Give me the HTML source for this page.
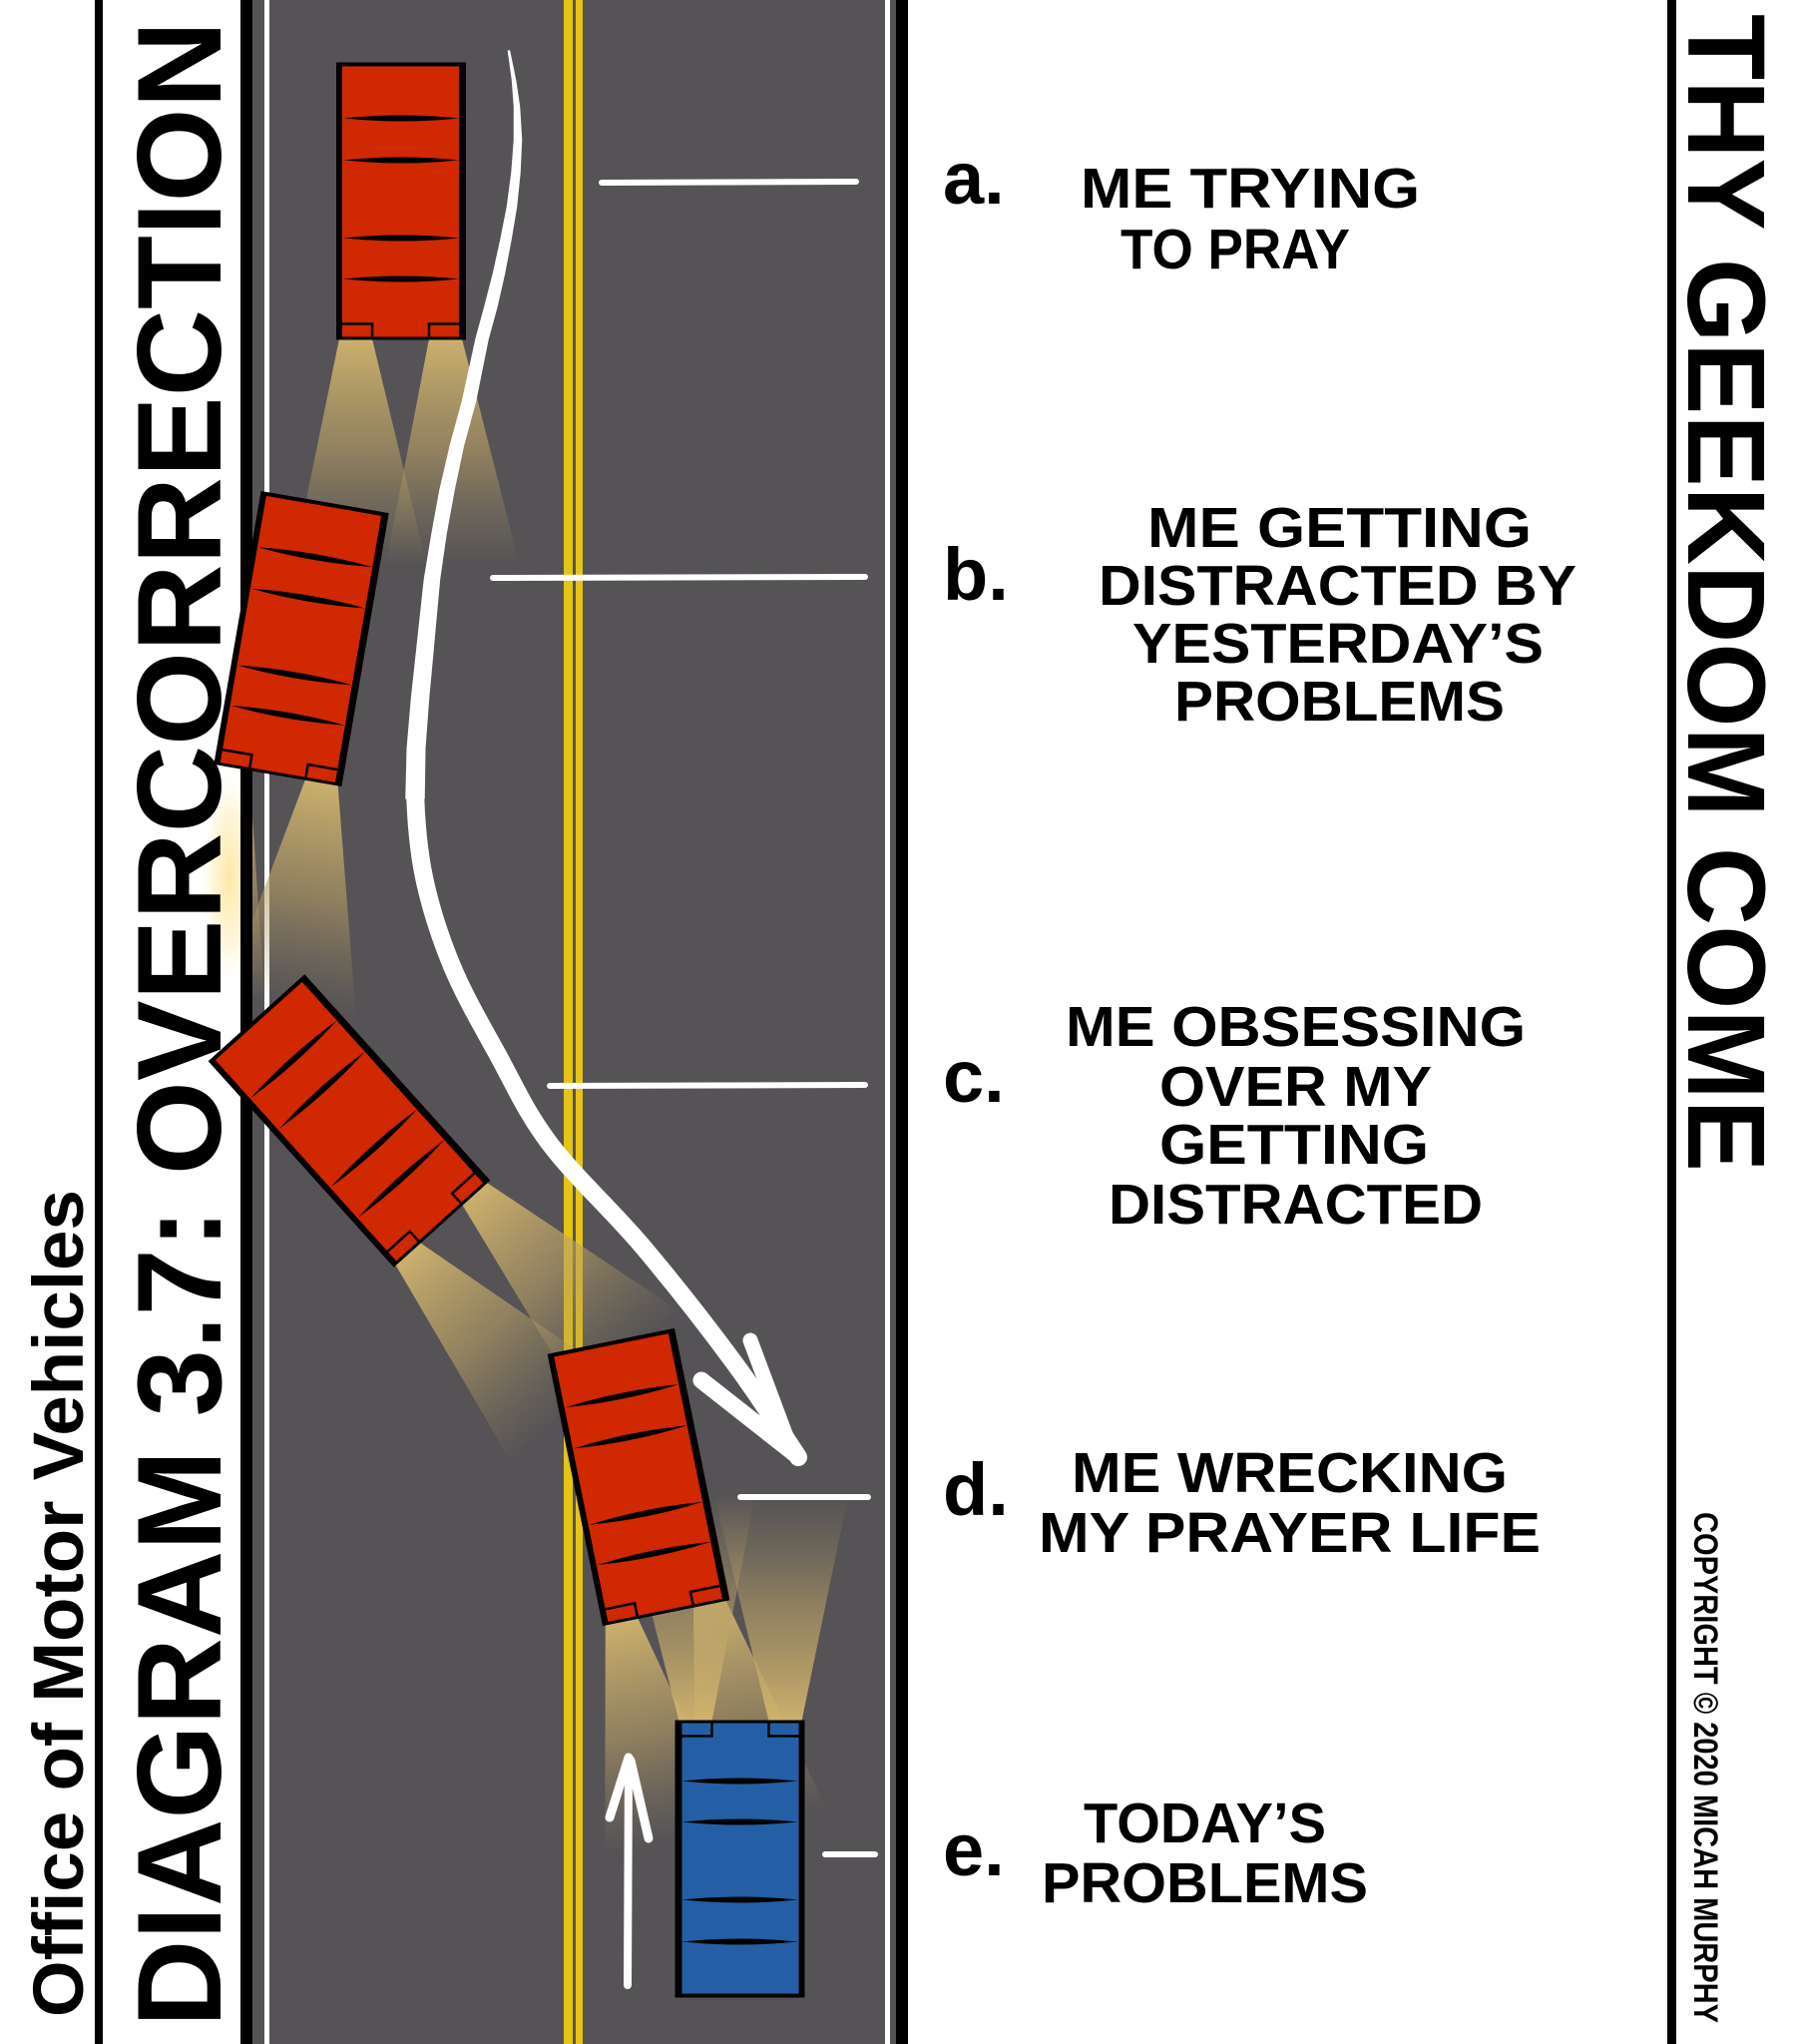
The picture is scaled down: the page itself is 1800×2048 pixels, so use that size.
<!DOCTYPE html>
<html><head><meta charset="utf-8">
<style>
html,body{margin:0;padding:0;background:#fff;}
svg{display:block;}
</style></head>
<body>
<svg width="1800" height="2048" viewBox="0 0 1800 2048" xmlns="http://www.w3.org/2000/svg">
<defs>
  <linearGradient id="bm" gradientUnits="userSpaceOnUse" x1="0" y1="138" x2="0" y2="365">
    <stop offset="0" stop-color="#d2b56e" stop-opacity="0.95"/>
    <stop offset="0.5" stop-color="#b89f66" stop-opacity="0.6"/>
    <stop offset="1" stop-color="#9c8a60" stop-opacity="0"/>
  </linearGradient>
  <radialGradient id="glow">
    <stop offset="0" stop-color="#fde7a2"/>
    <stop offset="0.6" stop-color="#fef3cf" stop-opacity="0.7"/>
    <stop offset="1" stop-color="#ffffff" stop-opacity="0"/>
  </radialGradient>
  <clipPath id="roadclip"><rect x="253" y="0" width="645" height="2048"/></clipPath>
  <g id="beams">
    <polygon points="-62,138 -29,138 25,362 -108,362" fill="url(#bm)"/>
    <polygon points="28,138 61,138 118,362 -15,362" fill="url(#bm)"/>
  </g>
  <g id="car">
    <rect x="-65" y="-139" width="130" height="278" fill="#000"/>
    <rect x="-59" y="-135" width="117" height="271"/>
    <path d="M-58,-83 Q0,-89 58,-83 Q0,-77 -58,-83Z" fill="#000"/>
    <path d="M-58,-41 Q0,-47 58,-41 Q0,-35 -58,-41Z" fill="#000"/>
    <path d="M-58,37 Q0,31 58,37 Q0,43 -58,37Z" fill="#000"/>
    <path d="M-58,78 Q0,72 58,78 Q0,84 -58,78Z" fill="#000"/>
    <path d="M-59,123 L-29,123 L-29,136 M58,123 L28,123 L28,136" fill="none" stroke="#000" stroke-width="2.5"/>
  </g>
</defs>

<rect x="0" y="0" width="1800" height="2048" fill="#fff"/>

<!-- glow on title box -->
<ellipse cx="230" cy="880" rx="30" ry="115" fill="url(#glow)"/>

<!-- title texts -->
<text transform="translate(83,2021) rotate(-90)" font-family="'Liberation Sans', Arial, sans-serif" font-weight="700" font-size="71" textLength="829" lengthAdjust="spacingAndGlyphs" fill="#000">Office of Motor Vehicles</text>
<text transform="translate(221,2031) rotate(-90)" font-family="'Liberation Sans', Arial, sans-serif" font-weight="700" font-size="120" textLength="2010" lengthAdjust="spacingAndGlyphs" fill="#000">DIAGRAM 3.7: OVERCORRECTION</text>

<!-- frame lines -->
<rect x="95" y="0" width="8" height="2048" fill="#000"/>
<rect x="241" y="0" width="12" height="2048" fill="#000"/>

<!-- road -->
<rect x="253" y="0" width="645" height="2048" fill="#555356"/>
<rect x="265" y="0" width="5" height="2048" fill="#fff"/>
<rect x="887" y="0" width="5" height="2048" fill="#fff"/>
<rect x="898" y="0" width="12" height="2048" fill="#000"/>
<rect x="1671" y="0" width="9" height="2048" fill="#000"/>

<!-- yellow center -->
<rect x="565" y="0" width="9" height="2048" fill="#e5c414"/>
<rect x="577" y="0" width="7" height="2048" fill="#e5c414"/>

<!-- dashes -->
<g stroke="#fff" stroke-width="6" stroke-linecap="round">
  <line x1="603" y1="183" x2="858" y2="182"/>
  <line x1="494" y1="579" x2="867" y2="578"/>
  <line x1="551" y1="1088" x2="867" y2="1087"/>
  <line x1="742" y1="1500" x2="870" y2="1500"/>
  <line x1="827" y1="1858" x2="877" y2="1858"/>
</g>

<!-- beams -->
<g clip-path="url(#roadclip)">
  <use href="#beams" transform="translate(402,201.5)"/>
  <use href="#beams" transform="translate(302,640) rotate(9.8)"/>
  <use href="#beams" transform="translate(350,1123) rotate(-42)"/>
  <use href="#beams" transform="translate(640,1480) rotate(-11.5)"/>
  <use href="#beams" transform="translate(741.5,1862.5) rotate(180)"/>
</g>

<!-- big curved arrow -->
<path d="M509.5,51 L513.5,80 L515.5,107 L515.5,140 L513,173 L508.5,207 L502,240 L494.5,274 L486,307 L477,340 L463.5,402 L451.5,446 L441,491 L433,535 L425.5,580 L419,640 L412.5,700 L408.25,750 L407,800 L425,800 L425.75,750 L429.5,700 L435,640 L440.5,580 L447,535 L455,491 L464.5,446 L476.5,402 L489,340 L498,307 L505.5,274 L512,240 L517.5,207 L521,173 L522.5,140 L520.5,107 L516.5,80 L510.5,51 Z" fill="#fff" stroke="#fff" stroke-width="1.5" stroke-linejoin="round"/>
<path d="M417,760 C416.5,772 416,780 416,790 C416.7,819.8 418.8,849.3 425,879 C431.2,908.7 440.7,938.3 453,968 C465.3,997.7 482.7,1027.3 499,1057 C515.3,1086.7 526.7,1113.8 551,1146 C575.3,1178.2 614,1213.2 645,1250 C676,1286.8 711.2,1332 737,1367 C762.8,1402 789.5,1444.5 800,1460" fill="none" stroke="#fff" stroke-width="18" stroke-linecap="round" stroke-linejoin="round"/>
<g stroke="#fff" stroke-linecap="round" fill="none">
  <line x1="703" y1="1383" x2="797" y2="1457" stroke-width="17"/>
  <line x1="752" y1="1343" x2="789" y2="1442" stroke-width="15"/>
</g>

<!-- cars -->
<use href="#car" fill="#d02800" transform="translate(402,201.5)"/>
<use href="#car" fill="#d02800" transform="translate(302,640) rotate(9.8)"/>
<use href="#car" fill="#d02800" transform="translate(350,1123) rotate(-42)"/>
<use href="#car" fill="#d02800" transform="translate(640,1480) rotate(-11.5)"/>
<use href="#car" fill="#245fa5" transform="translate(741.5,1862.5) rotate(180)"/>

<!-- small up arrow -->
<g stroke="#fff" stroke-linecap="round" fill="none">
  <line x1="629" y1="1989" x2="630" y2="1762" stroke-width="8"/>
  <line x1="630" y1="1761" x2="611" y2="1821" stroke-width="9"/>
  <line x1="632" y1="1764" x2="650" y2="1842" stroke-width="9"/>
</g>

<!-- labels -->
<g font-family="'Liberation Sans', Arial, sans-serif" font-weight="700" font-size="74" fill="#000">
  <text x="945" y="204">a.</text>
  <text x="945" y="601">b.</text>
  <text x="945" y="1104">c.</text>
  <text x="945" y="1518">d.</text>
  <text x="945" y="1879">e.</text>
</g>

<g font-family="'Liberation Sans', Arial, sans-serif" font-weight="700" font-size="57" fill="#000">
  <text x="1083" y="208" textLength="340" lengthAdjust="spacingAndGlyphs">ME TRYING</text>
  <text x="1123" y="269" textLength="230" lengthAdjust="spacingAndGlyphs">TO PRAY</text>

  <text x="1150" y="548" textLength="385" lengthAdjust="spacingAndGlyphs">ME GETTING</text>
  <text x="1101" y="606" textLength="479" lengthAdjust="spacingAndGlyphs">DISTRACTED BY</text>
  <text x="1135" y="664" textLength="412" lengthAdjust="spacingAndGlyphs">YESTERDAY’S</text>
  <text x="1177" y="722" textLength="331" lengthAdjust="spacingAndGlyphs">PROBLEMS</text>

  <text x="1068" y="1048" textLength="461" lengthAdjust="spacingAndGlyphs">ME OBSESSING</text>
  <text x="1162" y="1108" textLength="273" lengthAdjust="spacingAndGlyphs">OVER MY</text>
  <text x="1162" y="1166" textLength="270" lengthAdjust="spacingAndGlyphs">GETTING</text>
  <text x="1111" y="1226" textLength="375" lengthAdjust="spacingAndGlyphs">DISTRACTED</text>

  <text x="1074" y="1495" textLength="437" lengthAdjust="spacingAndGlyphs">ME WRECKING</text>
  <text x="1041" y="1555" textLength="503" lengthAdjust="spacingAndGlyphs">MY PRAYER LIFE</text>

  <text x="1086" y="1846" textLength="243" lengthAdjust="spacingAndGlyphs">TODAY’S</text>
  <text x="1044" y="1906" textLength="327" lengthAdjust="spacingAndGlyphs">PROBLEMS</text>
</g>

<!-- right side vertical texts -->
<text transform="translate(1692,14) rotate(90)" font-family="'Liberation Sans', Arial, sans-serif" font-weight="700" font-size="110" textLength="1160" lengthAdjust="spacingAndGlyphs" fill="#000">THY GEEKDOM COME</text>
<text transform="translate(1698,1515) rotate(90)" font-family="'Liberation Sans', Arial, sans-serif" font-weight="700" font-size="34" textLength="512" lengthAdjust="spacingAndGlyphs" fill="#000">COPYRIGHT © 2020 MICAH MURPHY</text>
</svg>
</body></html>
